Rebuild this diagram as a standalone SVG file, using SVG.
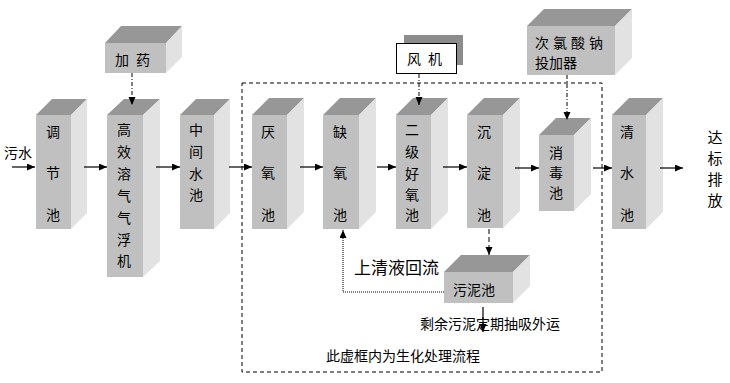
<svg xmlns="http://www.w3.org/2000/svg" width="730" height="383" viewBox="0 0 730 383">
<style>
.f{fill:#c0c0c0}
.t{fill:#979797}
.s{fill:#e2e2e2}
text{font-family:"Noto Sans CJK SC","Noto Sans",sans-serif;font-size:14px;fill:#000}
.ln{stroke:#000;stroke-width:1.2;fill:none}
.dd{stroke:#000;stroke-width:1;fill:none;stroke-dasharray:4 2 1 2}
.ds{stroke:#000;stroke-width:1;fill:none;stroke-dasharray:5 3}
.dt{stroke:#000;stroke-width:1;fill:none;stroke-dasharray:1 1}
</style>
<defs>
<marker id="ah" markerUnits="userSpaceOnUse" markerWidth="9" markerHeight="8" refX="8" refY="3.5" orient="auto"><path d="M0,0 L8,3.5 L0,7 z" fill="#000"/></marker>
</defs>
<rect width="730" height="383" fill="#fff"/>
<g id="frame"><rect x="242" y="83" width="360" height="289" fill="none" stroke="#000" stroke-width="1" stroke-dasharray="4 3"/></g>

<g id="tiaojie">
<rect class="f" x="36" y="115" width="35" height="114"/>
<polygon class="t" points="36,115 52,99 87,99 71,115"/>
<polygon class="s" points="71,115 87,99 87,213 71,229"/>
<text x="53" text-anchor="middle"><tspan x="53" y="137">调</tspan><tspan x="53" y="178">节</tspan><tspan x="53" y="220">池</tspan></text>
</g>
<g id="jiayao">
<rect class="f" x="105" y="43" width="61" height="30"/>
<polygon class="t" points="105,43 121,26 182,26 166,43"/>
<polygon class="s" points="166,43 182,26 182,57 166,73"/>
<text y="65"><tspan x="115">加</tspan><tspan x="136">药</tspan></text>
</g>
<g id="qifu">
<rect class="f" x="107" y="115" width="36" height="162"/>
<polygon class="t" points="107,115 124,99 160,99 143,115"/>
<polygon class="s" points="143,115 160,99 160,261 143,277"/>
<text text-anchor="middle"><tspan x="124" y="135">高</tspan><tspan x="124" y="157">效</tspan><tspan x="124" y="179">溶</tspan><tspan x="124" y="201">气</tspan><tspan x="124" y="223">气</tspan><tspan x="124" y="245">浮</tspan><tspan x="124" y="266">机</tspan></text>
</g>
<g id="zhongjian">
<rect class="f" x="180" y="115" width="34" height="114"/>
<polygon class="t" points="180,115 196,99 230,99 214,115"/>
<polygon class="s" points="214,115 230,99 230,213 214,229"/>
<text text-anchor="middle"><tspan x="196" y="135">中</tspan><tspan x="196" y="157">间</tspan><tspan x="196" y="179">水</tspan><tspan x="196" y="200">池</tspan></text>
</g>
<g id="yanyang">
<rect class="f" x="252" y="115" width="35" height="114"/>
<polygon class="t" points="252,115 269,98 304,98 287,115"/>
<polygon class="s" points="287,115 304,98 304,212 287,229"/>
<text text-anchor="middle"><tspan x="268" y="137">厌</tspan><tspan x="268" y="178">氧</tspan><tspan x="268" y="220">池</tspan></text>
</g>
<g id="queyang">
<rect class="f" x="323" y="115" width="36" height="114"/>
<polygon class="t" points="323,115 340,98 376,98 359,115"/>
<polygon class="s" points="359,115 376,98 376,212 359,229"/>
<text text-anchor="middle"><tspan x="340" y="137">缺</tspan><tspan x="340" y="178">氧</tspan><tspan x="340" y="220">池</tspan></text>
</g>
<g id="haoyang">
<rect class="f" x="396" y="115" width="35" height="114"/>
<polygon class="t" points="396,115 413,98 448,98 431,115"/>
<polygon class="s" points="431,115 448,98 448,212 431,229"/>
<text text-anchor="middle"><tspan x="412" y="135">二</tspan><tspan x="412" y="157">级</tspan><tspan x="412" y="179">好</tspan><tspan x="412" y="200">氧</tspan><tspan x="412" y="220">池</tspan></text>
</g>
<g id="fengji">
<rect x="404" y="35" width="59" height="30" fill="#8c8c8c"/>
<rect x="396.5" y="43.5" width="60" height="30" fill="#fff" stroke="#000" stroke-width="1"/>
<text y="64"><tspan x="407">风</tspan><tspan x="428">机</tspan></text>
</g>
<g id="chendian">
<rect class="f" x="467" y="115" width="36" height="113"/>
<polygon class="t" points="467,115 484,98 520,98 503,115"/>
<polygon class="s" points="503,115 520,98 520,211 503,228"/>
<text text-anchor="middle"><tspan x="484" y="137">沉</tspan><tspan x="484" y="178">淀</tspan><tspan x="484" y="220">池</tspan></text>
</g>
<g id="cilv">
<rect class="f" x="527" y="26" width="88" height="49"/>
<polygon class="t" points="527,26 544,9 632,9 615,26"/>
<polygon class="s" points="615,26 632,9 632,58 615,75"/>
<text x="535" y="48" letter-spacing="4">次氯酸钠</text>
<text x="535" y="68">投加器</text>
</g>
<g id="xiaodu">
<rect class="f" x="539" y="135" width="35" height="76"/>
<polygon class="t" points="539,135 556,118 591,118 574,135"/>
<polygon class="s" points="574,135 591,118 591,194 574,211"/>
<text text-anchor="middle"><tspan x="556" y="158">消</tspan><tspan x="556" y="178">毒</tspan><tspan x="556" y="198">池</tspan></text>
</g>
<g id="qingshui">
<rect class="f" x="612" y="115" width="34" height="114"/>
<polygon class="t" points="612,115 629,98 663,98 646,115"/>
<polygon class="s" points="646,115 663,98 663,212 646,229"/>
<text text-anchor="middle"><tspan x="627" y="137">清</tspan><tspan x="627" y="178">水</tspan><tspan x="627" y="220">池</tspan></text>
</g>
<g id="wuni">
<rect class="f" x="444" y="272" width="69" height="31"/>
<polygon class="t" points="444,272 461,255 530,255 513,272"/>
<polygon class="s" points="513,272 530,255 530,286 513,303"/>
<text x="453" y="295">污泥池</text>
</g>

<g id="connectors">
<line class="ln" x1="12" y1="167" x2="35" y2="167" marker-end="url(#ah)"/>
<line class="ln" x1="84" y1="167" x2="107" y2="167" marker-end="url(#ah)"/>
<line class="ln" x1="156" y1="167" x2="180" y2="167" marker-end="url(#ah)"/>
<line class="ln" x1="229" y1="167" x2="252" y2="167" marker-end="url(#ah)"/>
<line class="ln" x1="300" y1="167" x2="323" y2="167" marker-end="url(#ah)"/>
<line class="ln" x1="377" y1="167" x2="396" y2="167" marker-end="url(#ah)"/>
<line class="ln" x1="443" y1="167" x2="467" y2="167" marker-end="url(#ah)"/>
<line class="ln" x1="515" y1="168" x2="539" y2="168" marker-end="url(#ah)"/>
<line class="ln" x1="593" y1="168" x2="612" y2="168" marker-end="url(#ah)"/>
<line class="ln" x1="660" y1="168" x2="683" y2="168" marker-end="url(#ah)"/>
<line class="dd" x1="132" y1="73" x2="132" y2="105" marker-end="url(#ah)"/>
<line class="dd" x1="419" y1="74" x2="419" y2="105" marker-end="url(#ah)"/>
<line class="dd" x1="567" y1="75" x2="567" y2="120" marker-end="url(#ah)"/>
<line class="ds" x1="489" y1="229" x2="489" y2="255" marker-end="url(#ah)"/>
<polyline class="dt" points="444,292 343,292 343,230" marker-end="url(#ah)"/>
<line class="ln" x1="483" y1="307" x2="483" y2="332" marker-end="url(#ah)"/>
</g>

<text x="4" y="158">污水</text>
<text x="354" y="274" style="font-size:17px">上清液回流</text>
<text x="420" y="329">剩余污泥定期抽吸外运</text>
<text x="326" y="361">此虚框内为生化处理流程</text>
<text text-anchor="middle" style="font-size:15px"><tspan x="715" y="143">达</tspan><tspan x="715" y="164">标</tspan><tspan x="715" y="185">排</tspan><tspan x="715" y="206">放</tspan></text>
</svg>
